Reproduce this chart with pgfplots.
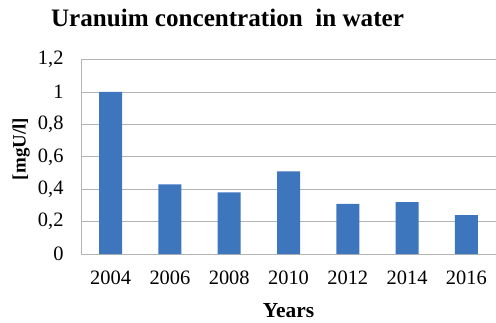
\documentclass[border=0pt]{standalone}
\usepackage{pgfplots}
\pgfplotsset{compat=1.18}
\usepackage{fontspec}
\setmainfont{Liberation Serif}
\definecolor{barblue}{RGB}{62,118,190}
\definecolor{gridgray}{RGB}{180,180,180}
\begin{document}
\begin{tikzpicture}[x=1bp,y=1bp]
\begin{axis}[
  at={(81bp,69bp)}, anchor=south west,
  scale only axis,
  width=415bp, height=194.4bp,
  ymin=0, ymax=1.2,
  xmin=-0.5, xmax=6.5,
  xtick=data,
  xticklabels={2004,2006,2008,2010,2012,2014,2016},
  ytick={0,0.2,0.4,0.6,0.8,1,1.2},
  yticklabels={0,{0,2},{0,4},{0,6},{0,8},1,{1,2}},
  /pgf/number format/assume math mode=true,
  ymajorgrids,
  major grid style={gridgray, line width=0.8pt},
  axis line style={gridgray, line width=0.8pt},
  axis x line*=bottom,
  axis y line*=left,
  major tick length=0pt,
  tick label style={font=\fontsize{20.5}{22}\selectfont},
  yticklabel style={xshift=-14bp},
  xticklabel style={yshift=-13bp},
  title={Uranuim concentration\ \ in water},
  title style={at={(0.353,1.184)}, anchor=center, font=\bfseries\fontsize{25.2}{28}\selectfont},
  xlabel={Years},
  xlabel style={at={(0.5,-0.29)}, anchor=center, font=\bfseries\fontsize{21.5}{24}\selectfont},
  ylabel={[mgU/l]},
  ylabel style={at={(-0.144,0.54)}, anchor=center, rotate=0, font=\bfseries\fontsize{19}{22}\selectfont},
  clip=false,
]
\addplot[ybar, bar width=23bp, fill=barblue, draw=none] coordinates {
  (0,1.00) (1,0.43) (2,0.38) (3,0.51) (4,0.31) (5,0.32) (6,0.24)
};
\end{axis}
\pgfresetboundingbox
\useasboundingbox (0,0) rectangle (496bp,323bp);
\end{tikzpicture}
\end{document}
